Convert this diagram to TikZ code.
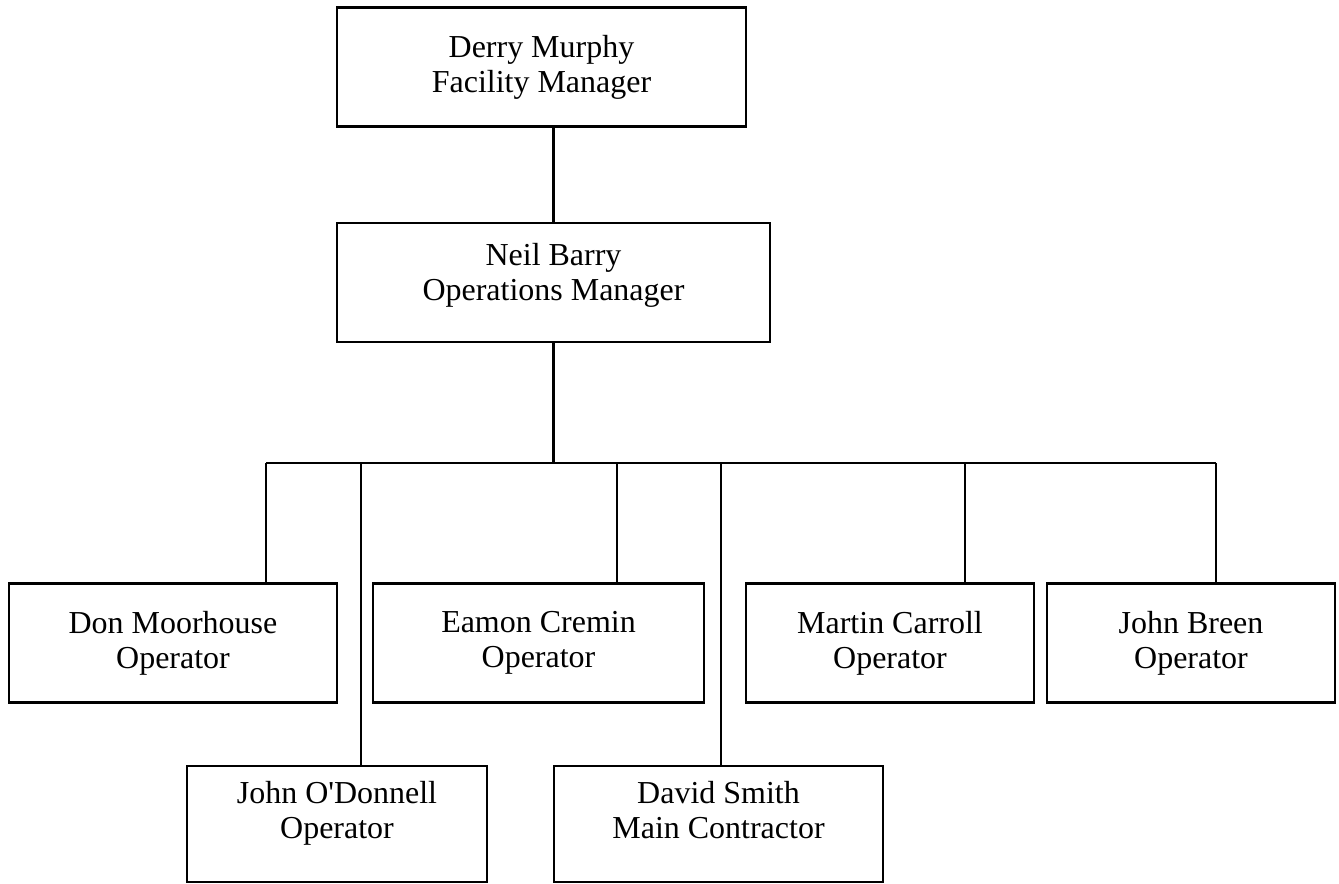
\documentclass[tikz,border=0pt]{standalone}
\usepackage{fontspec}
\setmainfont{Liberation Serif}
\usetikzlibrary{shapes}
\newcommand{\lift}[1]{\rule[-#1]{0pt}{0pt}}

\begin{document}
\begin{tikzpicture}[x=0.02cm,y=-0.02cm,line width=1.4pt,
  post/.style={draw,rectangle,align=center,minimum height=2.38cm,inner sep=0pt,
    font=\fontsize{18.2}{19.9}\selectfont}]
\useasboundingbox (0,0) rectangle (1339,884);
\node[post,minimum width=8.18cm] (derry) at (541.5,67) {Derry Murphy\\Facility Manager};
\node[post,minimum width=8.66cm] (neil) at (553.5,282.5) {Neil Barry\\Operations Manager\lift{12.3pt}};
\node[post,minimum width=6.56cm] (don) at (173,643) {Don Moorhouse\\Operator};
\node[post,minimum width=6.62cm] (eamon) at (538.5,643) {Eamon Cremin\\Operator};
\node[post,minimum width=5.76cm] (martin) at (890,643) {Martin Carroll\\Operator};
\node[post,minimum width=5.76cm] (breen) at (1191,643) {John Breen\\Operator};
\node[post,minimum width=6.0cm,minimum height=2.32cm] (odonnell) at (337,824) {John O\textquotesingle Donnell\\Operator\lift{15.5pt}};
\node[post,minimum width=6.58cm,minimum height=2.32cm] (david) at (718.5,824) {David Smith\\Main Contractor\lift{15.5pt}};
% taps on the bar
\coordinate (bar) at (553.5,463);
\coordinate (t1) at (266,463);
\coordinate (t2) at (361,463);
\coordinate (t3) at (617,463);
\coordinate (t4) at (721,463);
\coordinate (t5) at (965,463);
\coordinate (t6) at (1216,463);
\draw (derry.south -| neil.north) -- (neil.north);
\draw (neil.south) -- (bar);
\draw (t1) -- (t6);
\draw (t1) -- (t1 |- don.north);
\draw (t2) -- (t2 |- odonnell.north);
\draw (t3) -- (t3 |- eamon.north);
\draw (t4) -- (t4 |- david.north);
\draw (t5) -- (t5 |- martin.north);
\draw (t6) -- (t6 |- breen.north);
\end{tikzpicture}
\end{document}
